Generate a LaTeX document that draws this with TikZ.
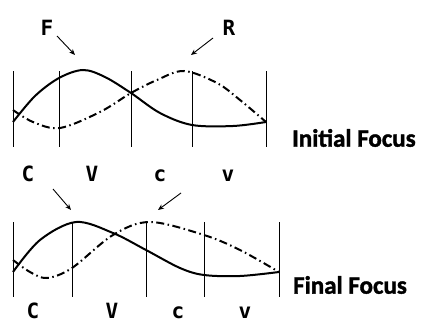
\documentclass[tikz,border=0pt]{standalone}
\usepackage{fontspec}
\setmainfont{Carlito}
\newfontfamily\lblfont{DejaVu Sans Mono Bold}
\newfontfamily\ttlfont{Carlito Bold}[FakeBold=1.5]
\usetikzlibrary{arrows.meta}
\begin{document}
\begin{tikzpicture}[x=1pt,y=-1pt,
  vline/.style={line width=0.8pt},
  solidcurve/.style={line width=2pt},
  dashcurve/.style={line width=2pt,dash pattern=on 8pt off 3.5pt on 1.5pt off 3.5pt},
  lbl/.style={font=\lblfont\fontsize{21}{21}\selectfont,inner sep=0pt},
  ttl/.style={font=\ttlfont\fontsize{25}{25}\selectfont,inner sep=0pt,anchor=west},
  arr/.style={line width=0.9pt,-{Stealth[length=6pt,width=5pt]}}]
\useasboundingbox (0,0) rectangle (424,324);
% top panel
\foreach \x in {13,59,131,192,266} \draw[vline] (\x,71) -- (\x,147);
\draw[solidcurve] plot[smooth,tension=0.55] coordinates {(13,122) (35,96) (59,78) (83,70) (105,77) (131,93) (160,113) (192,125) (233,126) (266,122)};
\draw[dashcurve] plot[smooth,tension=0.55] coordinates {(13,110) (33,122) (60,128) (100,112) (131,93) (157,80) (184,71) (217,83) (240,100) (266,122)};
\node[lbl] (F) at (47,28) {F};
\node[lbl] (R) at (229,28) {R};
\coordinate (fa) at (57,36); \coordinate (fb) at (75,55);
\coordinate (ra) at (213,38); \coordinate (rb) at (191,55);
\draw[arr] (fa) -- (fb);
\draw[arr] (ra) -- (rb);
\node[ttl] (init) at (292,138) {Initial Focus};
% middle labels
\node[lbl] (C1) at (28,174) {C};
\node[lbl] (V1) at (92,174) {V};
\node[lbl] (c1) at (160,176) {c};
\node[lbl] (v1) at (228,176) {v};
% bottom panel
\foreach \x in {13,72,146,204,279} \draw[vline] (\x,222) -- (\x,297);
\draw[solidcurve] plot[smooth,tension=0.55] coordinates {(13,272) (40,240) (76,222) (113,233) (146,250) (180,268) (204,275) (240,276) (279,272)};
\draw[dashcurve] plot[smooth,tension=0.55] coordinates {(13,260) (30,272) (47,278) (72,268) (113,235) (150,222) (204,235) (240,250) (279,272)};
\coordinate (ca) at (53,189); \coordinate (cb) at (71,210);
\coordinate (da) at (181,193); \coordinate (db) at (158,210);
\draw[arr] (ca) -- (cb);
\draw[arr] (da) -- (db);
\node[ttl] (fin) at (293,285) {Final Focus};
\node[lbl] (C2) at (33,311) {C};
\node[lbl] (V2) at (112,311) {V};
\node[lbl] (c2) at (178,313) {c};
\node[lbl] (v2) at (245,313) {v};
\end{tikzpicture}
\end{document}
